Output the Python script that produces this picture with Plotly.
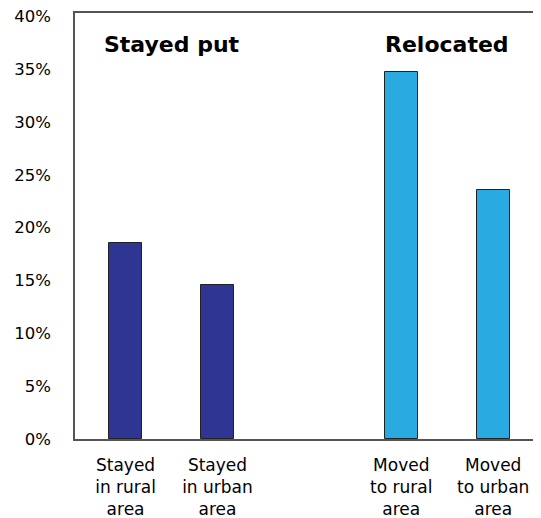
import plotly.graph_objects as go

# data
groups = ["Stayed put", "Relocated"]
labels_stayed = ["Stayed<br>in rural<br>area", "Stayed<br>in urban<br>area"]
labels_moved = ["Moved<br>to rural<br>area", "Moved<br>to urban<br>area"]
share_stayed = [18.5, 14.6]
share_moved = [34.7, 23.6]
colors = ["#2E3592", "#29ABE2"]

ytick_vals = [0, 5, 10, 15, 20, 25, 30, 35, 40]
ytick_text = [f"{v}%" for v in ytick_vals]

# one empty slot between the two groups
x_stayed = [0, 1]
x_moved = [3, 4]

fig = go.Figure()
for xs, ys, col in [(x_stayed, share_stayed, colors[0]), (x_moved, share_moved, colors[1])]:
    fig.add_trace(go.Bar(x=xs, y=ys, marker=dict(color=col, line=dict(color="#222222", width=1)),
                         width=0.36, showlegend=False))

for gx, name in zip([0.5, 3.5], groups):
    fig.add_annotation(x=gx, y=37.3, text=f"<b>{name}</b>", showarrow=False,
                       font=dict(size=22, color="black"))

# page body has an 8px margin, so the figure is a bit smaller than the window
fig.update_layout(
    width=533, height=510,
    margin=dict(l=67, r=0, t=5, b=79),
    paper_bgcolor="white", plot_bgcolor="white",
    font=dict(family="DejaVu Sans", size=17, color="black"),
    bargap=0,
)
fig.update_xaxes(range=[-0.55, 4.52], tickvals=x_stayed + x_moved, ticktext=labels_stayed + labels_moved,
                 showline=True, linecolor="#555555", linewidth=1.5, mirror=True, automargin=False,
                 showgrid=False, zeroline=False, ticks="", tickfont=dict(size=17), ticklabelstandoff=10,
                 ticklabeloverflow="allow")
fig.update_yaxes(range=[0, 40.3], tickvals=ytick_vals, ticktext=ytick_text,
                 showline=True, linecolor="#555555", linewidth=1.5, automargin=False,
                 showgrid=False, zeroline=False, ticks="", ticklabelstandoff=19,
                 tickfont=dict(size=16.5), ticklabeloverflow="allow")

fig.write_html("out.html")
